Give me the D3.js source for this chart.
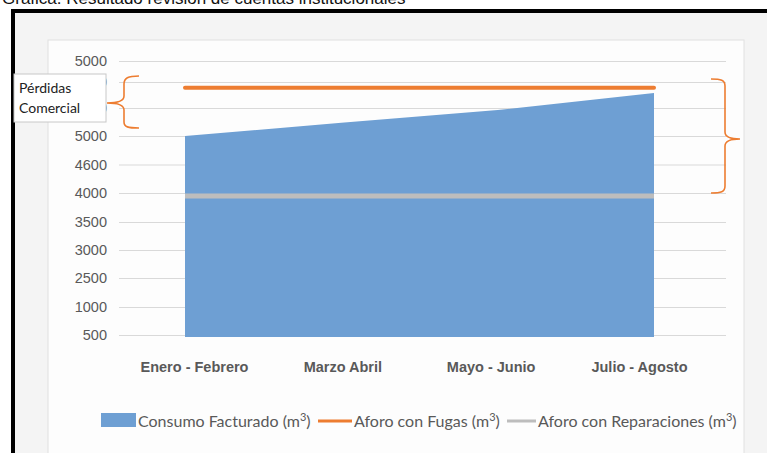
<!DOCTYPE html>
<html>
<head>
<meta charset="utf-8">
<script src="https://cdn.jsdelivr.net/npm/d3@7"></script>
<style>
  body { margin: 0; background: #fff; }
  svg { display: block; font-family: Lato, "Open Sans", sans-serif; }
  .tick text { fill: #595959; font-size: 14.5px; }
  .tick line { stroke: #d9d9d9; }
</style>
</head>
<body>
<svg id="chart" width="767" height="453"></svg>
<script>
// categories and series
const categories = ['Enero - Febrero', 'Marzo Abril', 'Mayo - Junio', 'Julio - Agosto'];
const consumoFacturado = [5000, 5190, 5370, 5630];
const aforoFugas = [5710, 5710, 5710, 5710];
const aforoReparaciones = [3950, 3950, 3950, 3950];

// y ticks as shown in the picture (two hidden under the note box)
const tickValues = [500, 1000, 2500, 3000, 3500, 4000, 4600, 5000, 5400, 5800, 6200];
const tickLabels = ['500', '1000', '2500', '3000', '3500', '4000', '4600', '5000', '5400', '5800', '5000'];

const svg = d3.select('#chart');

// frame and backgrounds
svg.append('rect').attr('x', 0).attr('y', 0).attr('width', 767).attr('height', 453).attr('fill', '#fff');
svg.append('text')
    .attr('x', 2).attr('y', 4)
    .attr('font-family', '"Liberation Sans", Arial, sans-serif')
    .attr('font-size', 17)
    .attr('fill', '#111')
    .text('Gráfica. Resultado revisión de cuentas institucionales');
svg.append('rect')
    .attr('x', 13).attr('y', 11).attr('width', 770).attr('height', 460)
    .attr('fill', '#f4f4f4').attr('stroke', '#000').attr('stroke-width', 4);
svg.append('rect')
    .attr('x', 48).attr('y', 40).attr('width', 696).attr('height', 430)
    .attr('fill', '#fdfdfd').attr('stroke', '#e0e0e0');

// scales
const y = d3.scaleLinear()
    .domain(tickValues)
    .range([335, 307, 278, 250, 222, 193, 164.5, 136, 108, 82, 61]);

const x = d3.scalePoint().domain(categories).range([185, 654]);
const xLabel = d3.scalePoint().domain(categories).range([194, 639]);

// y axis / gridlines
const yAxis = d3.axisLeft(y)
    .tickValues(tickValues)
    .tickFormat((d, i) => tickLabels[i])
    .tickSize(-(726 - 119))
    .tickPadding(12);

svg.append('g')
    .attr('transform', 'translate(119,0)')
    .call(yAxis)
    .call(g => g.select('.domain').remove());

// x axis labels
const xAxis = d3.axisBottom(xLabel).tickSize(0).tickPadding(0);
svg.append('g')
    .attr('transform', 'translate(0,362)')
    .call(xAxis)
    .call(g => g.select('.domain').remove())
    .call(g => g.selectAll('text').attr('font-size', 16).attr('font-weight', 'bold').attr('fill', '#606060'));

// area
const area = d3.area()
    .x((d, i) => x(categories[i]))
    .y0(y(500) + 2)
    .y1(d => y(d));

svg.append('path')
    .datum(consumoFacturado)
    .attr('d', area)
    .attr('fill', '#6e9fd3');

const line = d3.line()
    .x((d, i) => x(categories[i]))
    .y(d => y(d));

svg.append('path')
    .datum(aforoReparaciones)
    .attr('d', line)
    .attr('fill', 'none')
    .attr('stroke', '#bdbdbd')
    .attr('stroke-width', 5);

svg.append('path')
    .datum(aforoFugas)
    .attr('d', line)
    .attr('fill', 'none')
    .attr('stroke', '#ed7d31')
    .attr('stroke-width', 4)
    .attr('stroke-linecap', 'round');

// note box
svg.append('rect')
    .attr('x', 14).attr('y', 74).attr('width', 92).attr('height', 48)
    .attr('fill', '#fff').attr('stroke', '#c8c8c8');
svg.append('text').attr('x', 19).attr('y', 93).attr('font-size', 14).attr('fill', '#222').text('Pérdidas');
svg.append('text').attr('x', 19).attr('y', 113).attr('font-size', 14).attr('fill', '#222').text('Comercial');

// braces
const braceStyle = s => s.attr('fill', 'none').attr('stroke', '#ed7d31').attr('stroke-width', 1.6);
svg.append('path')
    .attr('d', 'M139,76 C128,76 124,78 124,84 L124,96 C124,101 118,103 107,103 C118,103 124,105 124,110 L124,122 C124,127 128,128 139,128')
    .call(braceStyle);
svg.append('path')
    .attr('d', 'M711,79 C721,79 725,80 725,86 L725,132 C725,137 730,139 740,139 C730,139 725,141 725,146 L725,186 C725,192 721,193 711,193')
    .call(braceStyle);

// legend
const legend = svg.append('g').attr('font-size', 16).attr('fill', '#595959');
const items = [
  {name: 'Consumo Facturado', type: 'rect', color: '#6e9fd3', x: 101, w: 35},
  {name: 'Aforo con Fugas', type: 'line', color: '#ed7d31', x: 318, w: 34},
  {name: 'Aforo con Reparaciones', type: 'line', color: '#bdbdbd', x: 507, w: 29}
];
items.forEach(it => {
  if (it.type === 'rect') {
    legend.append('rect').attr('x', it.x).attr('y', 413).attr('width', it.w).attr('height', 14).attr('fill', it.color);
  } else {
    legend.append('line').attr('x1', it.x).attr('x2', it.x + it.w).attr('y1', 421).attr('y2', 421)
        .attr('stroke', it.color).attr('stroke-width', 3);
  }
  const t = legend.append('text').attr('x', it.x + it.w + 2).attr('y', 426.5).attr('fill', '#595959');
  t.append('tspan').text(it.name + ' (m');
  t.append('tspan').attr('dy', -6).attr('font-size', 11).text('3');
  t.append('tspan').attr('dy', 6).text(')');
});
</script>
</body>
</html>
